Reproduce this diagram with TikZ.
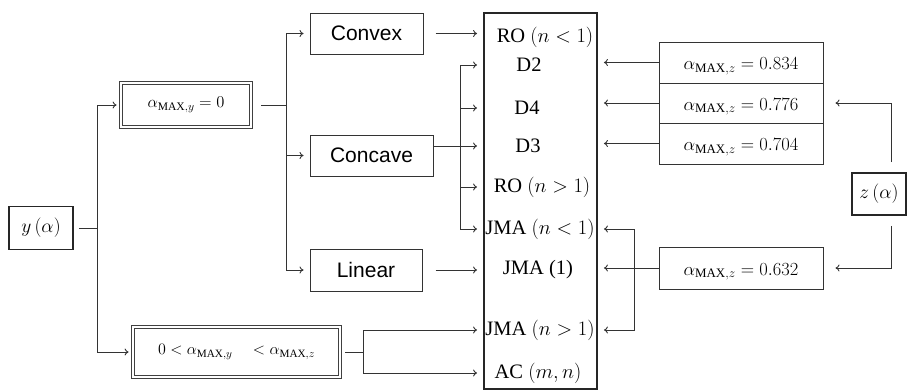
\RequirePackage{fix-cm}
\documentclass[tikz,border=0pt]{standalone}
\usepackage{fontspec}
\setmainfont{Liberation Serif}
\setsansfont{Liberation Sans}
\usetikzlibrary{arrows.meta}

\begin{document}
\begin{tikzpicture}[
  x=1pt, y=-1pt,
  link/.style={draw=black!80, line width=0.9pt},
  arr/.style={link, -{To[length=4pt, width=7pt]}, shorten >=6pt},
  shapebox/.style={draw=black!80, line width=1pt, inner sep=0pt, minimum height=41pt, font=\sffamily\fontsize{21}{24}\selectfont},
  varbox/.style={draw=black!85, line width=1.8pt, inner sep=0pt, font=\fontsize{19.5}{23}\selectfont},
  dbox/.style={draw=black!75, double, double distance=1.6pt, line width=0.8pt, inner sep=0pt},
  zbox/.style={draw=black!80, line width=1pt, inner sep=0pt, minimum width=164pt, text height=17pt, text depth=3pt, font=\fontsize{18.5}{21}\selectfont},
  entry/.style={inner sep=0pt, font=\fontsize{20.5}{24}\selectfont}
]
  \useasboundingbox (0,0) rectangle (909,391);

  % entradas a la izquierda
  \node[varbox, minimum width=64pt, minimum height=43pt] (yal) at (41,228) {$y\,(\alpha)$};
  \node[dbox, minimum width=130pt, minimum height=44pt, font=\fontsize{16.5}{20}\selectfont] (amy) at (186,105) {$\alpha_{\mathrm{MAX},y} = 0$};
  \node[dbox, minimum width=207pt, minimum height=50pt, font=\fontsize{16}{19}\selectfont] (rng) at (236.5,352) {$0<\alpha_{\mathrm{MAX},y}\quad<\alpha_{\mathrm{MAX},z}$};

  % forma de la curva
  \node[shapebox, minimum width=113pt] (convex) at (366.5,33.5) {Convex};
  \node[shapebox, minimum width=123pt] (concave) at (371.5,155.5) {Concave};
  \node[shapebox, minimum width=112pt, minimum height=42pt] (linear) at (366,270) {Linear};

  % caja de modelos
  \node[draw=black!85, line width=1.8pt, minimum width=113pt, minimum height=376pt] (models) at (540.5,201) {};
  \node[entry] (ro1) at (545,37) {RO $(n<1)$};
  \node[entry] (d2) at (529,65) {D2};
  \node[entry] (d4) at (527,108) {D4};
  \node[entry] (d3) at (528,146) {D3};
  \node[entry] (ro2) at (542,187) {RO $(n>1)$};
  \node[entry] (jma1) at (540,229) {JMA $(n<1)$};
  \node[entry] (jma0) at (538,270) {JMA (1)};
  \node[entry] (jma2) at (540,330) {JMA $(n>1)$};
  \node[entry] (ac) at (538,373) {AC $(m,n)$};

  % valores de z
  \node[zbox, minimum height=41pt] (z1) at (741,62.5) {$\alpha_{\mathrm{MAX},z} = 0.834$};
  \node[zbox, minimum height=40pt] (z2) at (741,103) {$\alpha_{\mathrm{MAX},z} = 0.776$};
  \node[zbox, minimum height=41pt] (z3) at (741,143.5) {$\alpha_{\mathrm{MAX},z} = 0.704$};
  \node[zbox, minimum height=42pt] (z4) at (741,268) {$\alpha_{\mathrm{MAX},z} = 0.632$};
  \node[varbox, minimum width=54pt, minimum height=42pt] (zal) at (879,194) {$z\,(\alpha)$};

  % ramas desde y
  \coordinate (ysplit) at (97,228);
  \draw[link, shorten <=5pt] (yal.east) -- (ysplit);
  \draw[arr, shorten >=4pt] (ysplit) |- (amy.west);
  \draw[arr, shorten >=4pt] (ysplit) |- (rng.west);

  \coordinate (asplit) at (286,105);
  \draw[link, shorten <=10pt] (amy.east) -- (asplit);
  \foreach \s in {convex,concave,linear}
    \draw[arr] (asplit) |- (\s.west);

  % hacia los modelos
  \draw[arr, shorten <=12pt] (convex.east) -- (models.west |- convex.east);
  \draw[arr] (concave.east |- d3) -- (models.west |- d3);
  \coordinate (cbus) at (460,0);
  \draw[link] (cbus |- d2) -- (cbus |- jma1);
  \foreach \r in {d2,d4,ro2,jma1}
    \draw[arr] (cbus |- \r) -- (models.west |- \r);
  \draw[arr, shorten <=13pt] (linear.east) -- (models.west |- linear.east);

  \coordinate (rsplit) at (363,352);
  \draw[link, shorten <=5pt] (rng.east) -- (rsplit);
  \draw[arr] (rsplit) |- (models.west |- jma2);
  \draw[arr] (rsplit) |- (models.west |- ac);

  % lado derecho
  \foreach \z in {z1,z2,z3}
    \draw[arr] (\z.west) -- (models.east |- \z.west);
  \draw[arr, shorten <=10pt, shorten >=12pt] ([xshift=12pt]zal.north) |- (z2.east);
  \draw[arr, shorten <=10pt, shorten >=12pt] ([xshift=12pt]zal.south) |- (z4.east);

  \draw[arr] (z4.west) -- (models.east |- z4.west);
  \coordinate (zbus) at (634,268);
  \draw[arr] (zbus) |- (models.east |- jma1);
  \draw[arr] (zbus) |- (models.east |- jma2);
\end{tikzpicture}
\end{document}
